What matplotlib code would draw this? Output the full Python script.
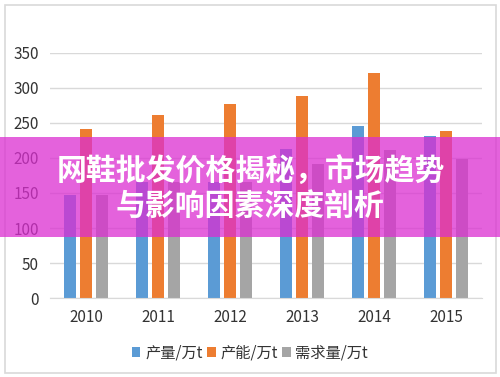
import numpy as np
import matplotlib
matplotlib.use("Agg")
import matplotlib.pyplot as plt
from matplotlib.patches import Rectangle

plt.rcParams['font.family'] = ['Noto Sans CJK SC', 'DejaVu Sans']

# data
years = ['2010', '2011', '2012', '2013', '2014', '2015']
output = [147, 166, 166, 213, 246, 231]      # 产量/万t
capacity = [242, 261, 277, 289, 321, 238]    # 产能/万t
demand = [147, 166, 166, 191, 211, 199]      # 需求量/万t
series_names = ['产量/万t', '产能/万t', '需求量/万t']
colors = ['#5B9BD5', '#ED7D31', '#A5A5A5']
yticks = [0, 50, 100, 150, 200, 250, 300, 350]

title_lines = ['网鞋批发价格揭秘，市场趋势', '与影响因素深度剖析']

fig = plt.figure(figsize=(5, 3.77), dpi=100)
ax = fig.add_axes([0.1, 0.2095, 0.864, 0.65])

x = np.arange(len(years))
w = 0.167
step = 0.222
for i, (vals, name, c) in enumerate(zip([output, capacity, demand], series_names, colors)):
    ax.bar(x + (i - 1) * step, vals, width=w, color=c, label=name, zorder=2)

ax.set_xlim(-0.5, len(years) - 0.5)
ax.set_ylim(0, 350)
ax.set_yticks(yticks)
ax.set_xticks(x)
ax.set_xticklabels(years)
ax.yaxis.grid(True, color='#D9D9D9', linewidth=1, zorder=0)
ax.set_axisbelow(True)
for s in ['top', 'right', 'left']:
    ax.spines[s].set_visible(False)
ax.spines['bottom'].set_color('#D9D9D9')
ax.tick_params(axis='both', length=0, colors='#333333', labelsize=11)
ax.tick_params(axis='y', pad=8)
ax.tick_params(axis='x', pad=8)

# legend centred on the figure, not the axes
leg = fig.legend(loc='center', bbox_to_anchor=(0.5, 1 - 353 / 377), ncol=3,
                 frameon=False, fontsize=11, handlelength=0.55, handleheight=0.55,
                 handletextpad=0.3, columnspacing=0.3, labelcolor='#333333')

# outer chart border
fig.add_artist(Rectangle((0.01, 0.011), 0.982, 0.976, transform=fig.transFigure,
                         fill=False, edgecolor='#D9D9D9', linewidth=1.2))

# magenta banner with headline
fig.add_artist(Rectangle((0, 1 - 237 / 377), 1, 100 / 377, transform=fig.transFigure,
                         facecolor=(0.86, 0.18, 0.82), alpha=0.75, edgecolor='none',
                         zorder=5))
fig.text(0.502, 1 - 172 / 377, title_lines[0], ha='center', va='center',
         color='white', fontsize=21.5, fontweight='heavy', zorder=6)
fig.text(0.5, 1 - 207 / 377, title_lines[1], ha='center', va='center',
         color='white', fontsize=21.5, fontweight='heavy', zorder=6)

fig.savefig('out.png', dpi=100)
